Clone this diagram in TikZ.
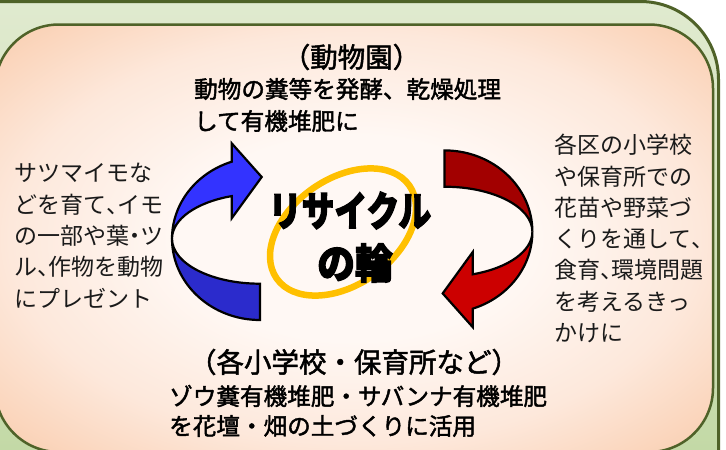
\documentclass[tikz,border=0pt]{standalone}
\usepackage{fontspec}
\usepackage{graphicx}
\newfontfamily\cjk{Noto Sans CJK JP}
\newfontfamily\cjkmed[FakeBold=1.8]{Noto Sans CJK JP}
\newfontfamily\cjkheavy[BoldFeatures={FakeBold=3}]{Noto Sans CJK JP}
\usetikzlibrary{shapes.geometric}
\definecolor{frameg}{HTML}{4F6228}
\definecolor{greentop}{HTML}{E0EACF}
\definecolor{greenbot}{HTML}{BCD59C}
\definecolor{pc}{HTML}{FFF8F4}
\definecolor{pm}{HTML}{FDE8DB}
\definecolor{pe}{HTML}{F8C29C}
\definecolor{pf}{HTML}{F6B88C}
\definecolor{ringyellow}{HTML}{FFC000}
\definecolor{bluehead}{HTML}{3333FF}
\definecolor{bluetail}{HTML}{2B2BCC}
\definecolor{redhead}{HTML}{CC0000}
\definecolor{redtail}{HTML}{A20000}
\definecolor{ink}{HTML}{1A1A1A}
\pgfdeclareradialshading{peachglow}{\pgfpoint{0bp}{0bp}}{color(0bp)=(pc); color(12bp)=(pc); color(24bp)=(pm); color(40bp)=(pe); color(71bp)=(pf)}
\newcommand\halfcomma[1]{\makebox[0.5em][l]{#1}}
\newcommand\halfdot[1]{\makebox[0.5em][c]{#1}}
\newcommand\cyclearrow[2]{%
  \filldraw[band, fill=#2] (260,320) arc[start angle=90, end angle=180, x radius=88, y radius=81.3]
     arc[start angle=180, end angle=90, x radius=88, y radius=45] -- cycle;
  \filldraw[band, fill=#1] (172,238.7) arc[start angle=180, end angle=251.24, x radius=88, y radius=81.3]
     -- (231.7,143.3) -- (261.7,177) -- (231.7,218.3) -- (231.7,196.1)
     arc[start angle=251.24, end angle=180, x radius=88, y radius=45] -- cycle;
}
\tikzset{
  lbl/.style={inner sep=0pt, anchor=west, text=ink, font=\cjk\fontsize{23}{23}\selectfont},
  headtxt/.style={inner sep=0pt, text=black, font=\cjkmed\fontsize{27.5}{27.5}\selectfont},
  bodytxt/.style={inner sep=0pt, anchor=west, text=black, font=\cjkmed\fontsize{23.6}{23.6}\selectfont},
  bigword/.style={inner sep=0pt, text=black, font=\cjkheavy\bfseries\fontsize{41}{41}\selectfont},
  band/.style={draw=black, line width=2.2pt, line join=miter, miter limit=10},
}
\begin{document}
\begin{tikzpicture}[x=1pt, y=-1pt]
\useasboundingbox (0,0) rectangle (726,450);
\fill[white] (0,0) rectangle (726,450);
\begin{scope}
\clip (0,0) rectangle (726,450);
\draw[frameg, line width=3pt, top color=greentop, bottom color=greenbot, rounded corners=78pt] (-100,1.5) rectangle (718.5,560);
\shadedraw[shading=peachglow, draw=frameg, line width=2.5pt, rounded corners=64pt] (-5,24.5) rectangle (713,452);
\end{scope}
% arrows
\cyclearrow{bluehead}{bluetail}
\begin{scope}[rotate around={180:(352.2,235.2)}]
\cyclearrow{redhead}{redtail}
\end{scope}
% ring
\node[draw=ringyellow, line width=6.5pt, ellipse, minimum width=162pt, minimum height=106pt, rotate=35, inner sep=0pt] (ring) at (343,232) {};
\node[bigword] (w1) at (350,210.5) {\scalebox{0.8}[1]{リサイクル}};
\node[bigword] (w2) at (355,263) {\scalebox{0.92}[1]{の輪}};
% top
\node[headtxt] (zoo) at (351.5,57) {（動物園）};
\node[bodytxt] (zooA) at (194,89) {動物の糞等を発酵、乾燥処理};
\node[bodytxt] (zooB) at (194,121) {して有機堆肥に};
% bottom
\node[headtxt] (sch) at (354,362) {（各小学校・保育所など）};
\node[bodytxt] (schA) at (169,396) {ゾウ糞有機堆肥・サバンナ有機堆肥};
\node[bodytxt] (schB) at (169,426) {を花壇・畑の土づくりに活用};
% left
\node[lbl] (l1) at (14,173) {サツマイモな};
\node[lbl] (l2) at (14,204.3) {どを育て\halfcomma{、}イモ};
\node[lbl] (l3) at (14,235.6) {の一部や葉\halfdot{・}ツ};
\node[lbl] (l4) at (14,266.9) {ル\halfcomma{、}作物を動物};
\node[lbl] (l5) at (14,298.2) {にプレゼント};
% right
\node[lbl] (r1) at (554,145) {各区の小学校};
\node[lbl] (r2) at (554,176.3) {や保育所での};
\node[lbl] (r3) at (554,207.6) {花苗や野菜づ};
\node[lbl] (r4) at (554,238.9) {くりを通して\halfcomma{、}};
\node[lbl] (r5) at (554,270.2) {食育\halfcomma{、}環境問題};
\node[lbl] (r6) at (554,301.5) {を考えるきっ};
\node[lbl] (r7) at (554,332.8) {かけに};
\end{tikzpicture}
\end{document}
